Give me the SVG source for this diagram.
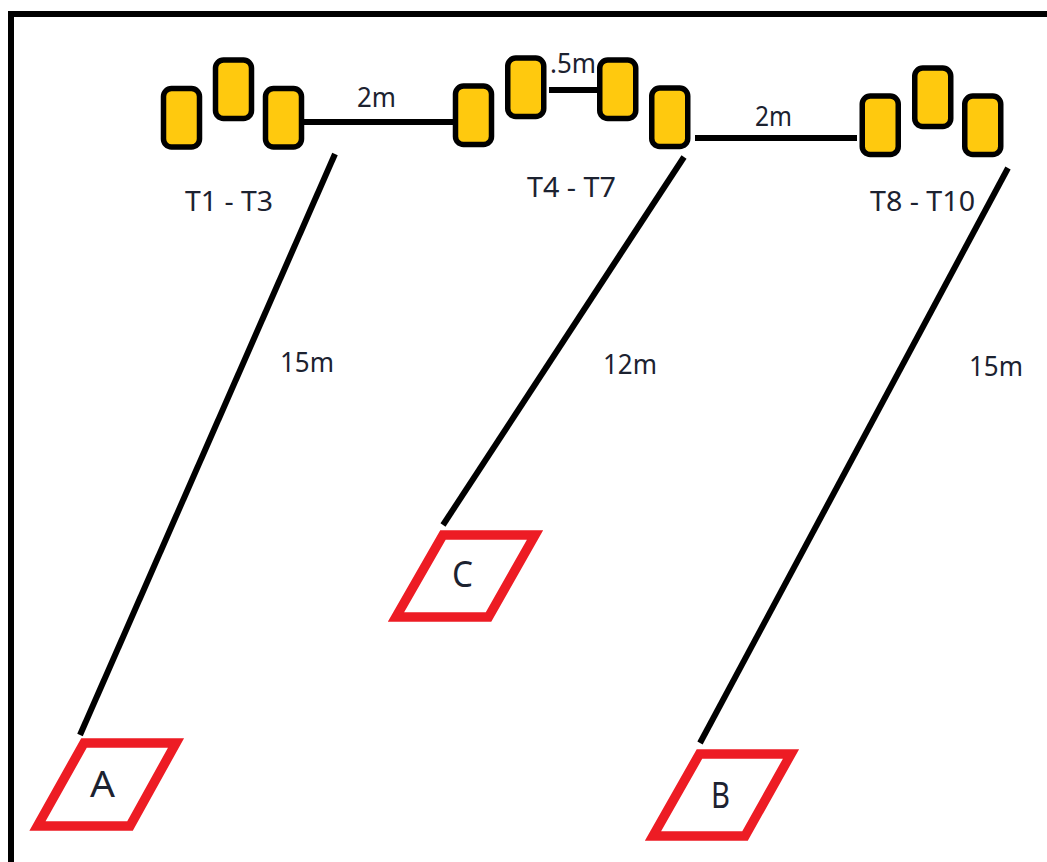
<svg xmlns="http://www.w3.org/2000/svg" width="1047" height="862" viewBox="0 0 1047 862">
<style>
.t{fill:#FFC90E;stroke:#000;stroke-width:5.5;width:36px;height:58.5px;rx:8px;ry:8px}
.l{fill:none;stroke:#000;stroke-width:6}
.p{fill:none;stroke:#ED1C24;stroke-width:9.5;stroke-miterlimit:10}
text{font-family:"Noto Sans","Liberation Sans",sans-serif;fill:#1c2230;font-size:27px}
.big{font-size:36px}
</style>
<rect width="1047" height="862" fill="#fff"/>
<path id="frame" d="M11 862V14H1047" class="l"/>
<g id="connectors">
<path class="l" d="M304 122H453"/>
<path class="l" d="M549 90H597"/>
<path class="l" d="M695 138H857"/>
<path class="l" d="M335 154L80 735"/>
<path class="l" d="M684 157L443 525"/>
<path class="l" d="M1008 168L700 743"/>
</g>
<g id="T1"><rect class="t" x="163.500" y="88.500"/></g>
<g id="T2"><rect class="t" x="215.500" y="60"/></g>
<g id="T3"><rect class="t" x="265.500" y="88.500"/></g>
<g id="T4"><rect class="t" x="455.500" y="86"/></g>
<g id="T5"><rect class="t" x="507.750" y="58"/></g>
<g id="T6"><rect class="t" x="599.750" y="60"/></g>
<g id="T7"><rect class="t" x="651.750" y="88"/></g>
<g id="T8"><rect class="t" x="862.250" y="96"/></g>
<g id="T9"><rect class="t" x="914.750" y="68"/></g>
<g id="T10"><rect class="t" x="964.750" y="96"/></g>
<g id="A"><path class="p" d="M84 743H176L130 826H37.500Z"/><text class="big" x="90" y="797" textLength="25" lengthAdjust="spacingAndGlyphs">A</text></g>
<g id="C"><path class="p" d="M443 535H535L488.500 617H396Z"/><text class="big" x="452" y="587" textLength="21" lengthAdjust="spacingAndGlyphs">C</text></g>
<g id="B"><path class="p" d="M699.500 754H791L745 836H653Z"/><text class="big" x="711" y="808" textLength="19" lengthAdjust="spacingAndGlyphs">B</text></g>
<g id="labels">
<text x="185" y="211" textLength="88" lengthAdjust="spacingAndGlyphs">T1 - T3</text>
<text x="527" y="197" textLength="89" lengthAdjust="spacingAndGlyphs">T4 - T7</text>
<text x="870" y="211" textLength="105" lengthAdjust="spacingAndGlyphs">T8 - T10</text>
<text x="357" y="107" textLength="39" lengthAdjust="spacingAndGlyphs">2m</text>
<text x="550" y="73" textLength="46" lengthAdjust="spacingAndGlyphs">.5m</text>
<text x="755" y="126" textLength="37" lengthAdjust="spacingAndGlyphs">2m</text>
<text x="280" y="372" textLength="54" lengthAdjust="spacingAndGlyphs">15m</text>
<text x="603" y="374" textLength="54" lengthAdjust="spacingAndGlyphs">12m</text>
<text x="969" y="376" textLength="54" lengthAdjust="spacingAndGlyphs">15m</text>
</g>
</svg>
